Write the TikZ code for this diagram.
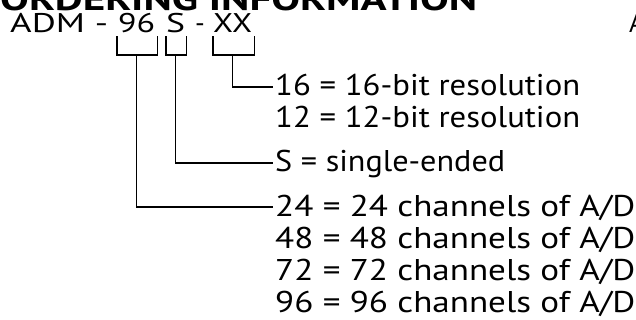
\documentclass[tikz,border=0pt]{standalone}
\usepackage{graphicx}
\usepackage{fontspec}
\setmainfont{PT Sans}
\usetikzlibrary{calc}
\newsavebox\fitbox
\newcommand\fitw[2]{\sbox\fitbox{#2}\pgfmathsetmacro\fitsx{#1/\the\wd\fitbox}\scalebox{\fitsx}[1]{\usebox\fitbox}}
\begin{document}
\begin{tikzpicture}[x=1pt,y=-1pt,
  txt/.style={inner sep=0pt, anchor=base west, font=\fontsize{30}{36}\selectfont},
  code/.style={inner sep=0pt, anchor=base west, font=\fontsize{27}{32}\selectfont},
  ttl/.style={inner sep=0pt, anchor=base west, font=\fontsize{32}{36}\selectfont\bfseries},
  lead/.style={line width=1.5pt, line cap=rect}]
\useasboundingbox (0,0) rectangle (636,320);
\clip (0,0) rectangle (636,320);
% title
\node[ttl] (title) at (0,11) {\fitw{477}{ORDERING INFORMATION}};
% code line
\node[code] (adm) at (10,33) {\fitw{98}{ADM -}};
\node[code] (c96) at (118,33) {\fitw{37}{96}};
\node[code] (cS) at (166,33) {\fitw{19}{S}};
\node[code] (dsh) at (195,33) {-};
\node[code] (cXX) at (213,33) {\fitw{39}{XX}};
\node[code] (colA) at (629,33) {A};
% descriptions
\node[txt] (d16) at (275,96) {\fitw{305}{16 = 16-bit resolution}};
\node[txt] (d12) at (275,128) {\fitw{305}{12 = 12-bit resolution}};
\node[txt] (dS) at (275,172) {\fitw{230}{S = single-ended}};
\node[txt] (d24) at (275,216) {\fitw{360}{24 = 24 channels of A/D}};
\node[txt] (d48) at (275,248) {\fitw{360}{48 = 48 channels of A/D}};
\node[txt] (d72) at (275,280) {\fitw{360}{72 = 72 channels of A/D}};
\node[txt] (d96) at (275,312) {\fitw{360}{96 = 96 channels of A/D}};
% brackets
\draw[lead] ($(c96.base west)+(-1,4)$) -- ++(0,18) -- ($(c96.base east)+(2,22)$) -- ++(0,-18);
\draw[lead] ($(cS.base west)+(0,4)$) -- ++(0,18) -- ($(cS.base east)+(1,22)$) -- ++(0,-18);
\draw[lead] ($(cXX.base west)+(0,4)$) -- ++(0,18) -- ($(cXX.base east)+(2,22)$) -- ++(0,-18);
% leaders
\draw[lead] ($(cXX.base)+(0,22)$) |- ($(d16.base west)+(-3,-9)$);
\draw[lead] ($(cS.base)+(0,22)$) |- ($(dS.base west)+(-3,-9)$);
\draw[lead] ($(c96.base)+(0,22)$) |- ($(d24.base west)+(-3,-9)$);
\end{tikzpicture}
\end{document}
